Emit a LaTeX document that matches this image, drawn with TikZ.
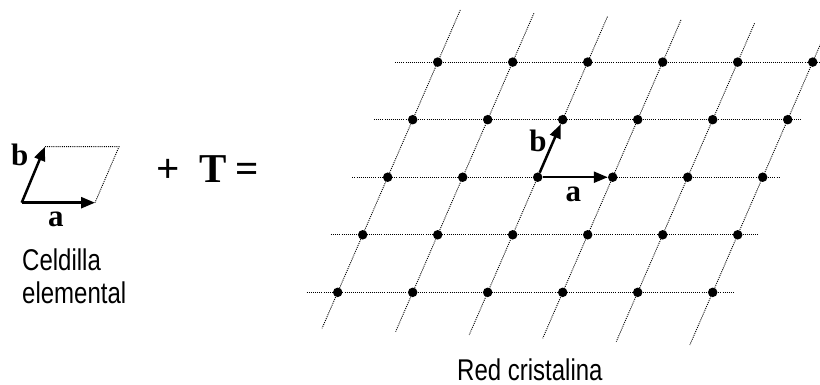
\documentclass[tikz,border=0pt]{standalone}
\usepackage{fontspec}
\setmainfont{Liberation Serif}
\newfontfamily\sansf{Liberation Sans}
\usetikzlibrary{arrows.meta}
\begin{document}
\begin{tikzpicture}[x=1pt,y=-1pt,
  latline/.style={dash pattern=on 1pt off 1.1pt, line width=0.9pt},
  vec/.style={line width=2.5pt, -{Triangle[length=14pt,width=11pt]}},
  dot/.style={circle, fill=black, inner sep=0pt, minimum size=9.5pt},
  lbl/.style={font=\fontsize{31}{31}\selectfont\bfseries, inner sep=0pt, anchor=base},
  bigop/.style={font=\fontsize{41}{41}\selectfont\bfseries, inner sep=0pt, anchor=base},
  captxt/.style={font=\sansf\fontsize{30}{33}\selectfont, inner sep=0pt, anchor=base west},
]
\useasboundingbox (0,0) rectangle (820,385);

% ---------- elementary cell ----------
\coordinate (o) at (21.7,202.7);
\coordinate (ca) at (95,202.7);
\coordinate (cb) at (45,146.7);
\coordinate (cc) at (119,146.7);
\draw[latline] (cb) -- (cc) -- (ca);
\draw[vec] (o) -- (ca);
\draw[vec] (o) -- (cb);
\node[lbl] (cellb) at (19.7,165.7) {b};
\node[lbl] (cella) at (55.8,226.7) {a};
\node[captxt] (cap1) at (22,270) {\scalebox{0.8}[1]{Celdilla}};
\node[captxt] (cap2) at (22,303) {\scalebox{0.8}[1]{elemental}};

% ---------- + T = ----------
\node[bigop] (plus) at (168.3,183) {+};
\node[bigop] (T) at (213.5,183) {T};
\node[bigop] (eq) at (246.7,183) {=};

% ---------- lattice lines ----------
\begin{scope}
\clip (0,0) rectangle (820,385);
\foreach \r/\xs/\xe in {0/395/822, 1/374/801.7, 2/352.3/780, 3/331/759, 4/306.7/734.3}
  \draw[latline] (\xs,{62.1+57.56*\r}) -- (\xe,{62.1+57.56*\r});
\foreach \k in {0,...,5}
  \draw[latline] ({387.7+75*\k+(167.2-3.33*\k)*0.4343},{10+3.33*\k})
              -- ({387.7+75*\k-(151.1+3.33*\k)*0.4343},{328.3+3.33*\k});
\end{scope}

% ---------- lattice points ----------
\foreach \r in {0,...,4}{
  \foreach \j in {0,...,5}{
    \node[dot] (p\r\j) at ({437.7-25*\r+75*\j},{62.1+57.56*\r}) {};
  }
}

\draw[vec] (p22) -- (p23);
\draw[vec] (p22) -- (p12);
\node[lbl] (latb) at (538,151.7) {b};
\node[lbl] (lata) at (573.3,201.7) {a};

\node[captxt] (cap3) at (457,380) {\scalebox{0.8}[1]{Red cristalina}};
\end{tikzpicture}
\end{document}
